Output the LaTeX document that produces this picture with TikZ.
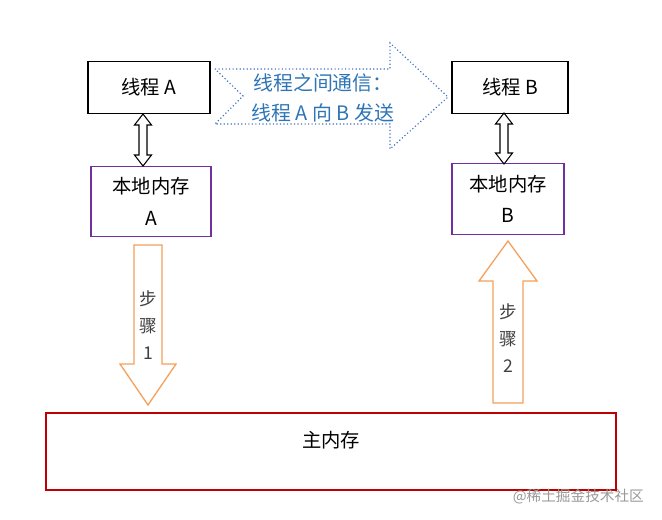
\documentclass[tikz,border=0pt]{standalone}
\usepackage{fontspec}
\setmainfont{Noto Sans CJK SC}
\usepackage{xcolor}
\usetikzlibrary{positioning,calc}
\definecolor{cPurple}{HTML}{7030A0}
\definecolor{cRed}{HTML}{C00000}
\definecolor{cOrange}{HTML}{F4A05A}
\definecolor{cBlue}{HTML}{4472C4}
\definecolor{cText}{HTML}{2E75B6}

\begin{document}
\begin{tikzpicture}[x=0.03cm,y=-0.03cm,font=\fontsize{16.5pt}{19pt}\selectfont,
  thr/.style={draw=black,line width=0.9pt,minimum width=3.66cm,minimum height=1.56cm,
              inner sep=0pt},
  mem/.style={draw=cPurple,line width=0.9pt,minimum height=2.12cm,align=center,
              inner sep=0pt},
  blk/.style={draw=black,line width=0.9pt,fill=white,line join=miter},
  stp/.style={draw=cOrange,line width=1.1pt,fill=white},
  stxt/.style={align=center,text=black!75,font=\fontsize{15pt}{23pt}\selectfont}]
\useasboundingbox (0,0) rectangle (662,519);
\node[thr] (ta) at (149,87.5) {线程 A};
\node[thr,minimum width=3.48cm] (tb) at (510,87.5) {线程 B};
\node[mem,minimum width=3.6cm] (ma) at (151,201.5) {本地内存\\[8pt]A};
\node[mem,minimum width=3.36cm] (mb) at (508,199) {本地内存\\[7pt]B};
\node[draw=cRed,line width=0.9pt,minimum width=17.1cm,minimum height=2.31cm]
  (mm) at (331,451.5) {};
\node (mmt) at ($(mm.center)+(0,-11)$) {主内存};
% thread <-> local memory
\coordinate (a1) at (143,114);
\coordinate (b1) at (504,113);
\draw[blk] (a1) -- ++(8.5,11) -- ++(-4.5,0) -- ++(0,30) -- ++(4.5,0) -- ++(-8.5,11)
  -- ++(-8.5,-11) -- ++(4.5,0) -- ++(0,-30) -- ++(-4.5,0) -- cycle;
\draw[blk] (b1) -- ++(8.5,11) -- ++(-4.5,0) -- ++(0,29) -- ++(4.5,0) -- ++(-8.5,11)
  -- ++(-8.5,-11) -- ++(4.5,0) -- ++(0,-29) -- ++(-4.5,0) -- cycle;
% communication arrow
\draw[cBlue,line width=1pt,dotted] (215,69) -- (390,69) -- (390,43) -- (448,97)
  -- (390,149) -- (390,124) -- (215,124) -- (243,96) -- cycle;
\node[text=cText,align=center,font=\fontsize{17pt}{25pt}\selectfont] (msg) at (323,98)
  {线程之间通信：\\线程 A 向 B 发送};
% steps
\draw[stp] (134,245) -- (162,245) -- (162,364) -- (176,364) -- (148,405)
  -- (120,364) -- (134,364) -- cycle;
\node[stxt] (s1) at (148,325) {步\\骤\\1};
\draw[stp] (493,403) -- (523,403) -- (523,281) -- (537,281) -- (508,241)
  -- (479,281) -- (493,281) -- cycle;
\node[stxt] (s2) at (508,338) {步\\骤\\2};
\node[text=black!40,font=\fontsize{12.5pt}{14pt}\selectfont,anchor=east] (wm) at (648,497)
  {@稀土掘金技术社区};
\end{tikzpicture}
\end{document}
